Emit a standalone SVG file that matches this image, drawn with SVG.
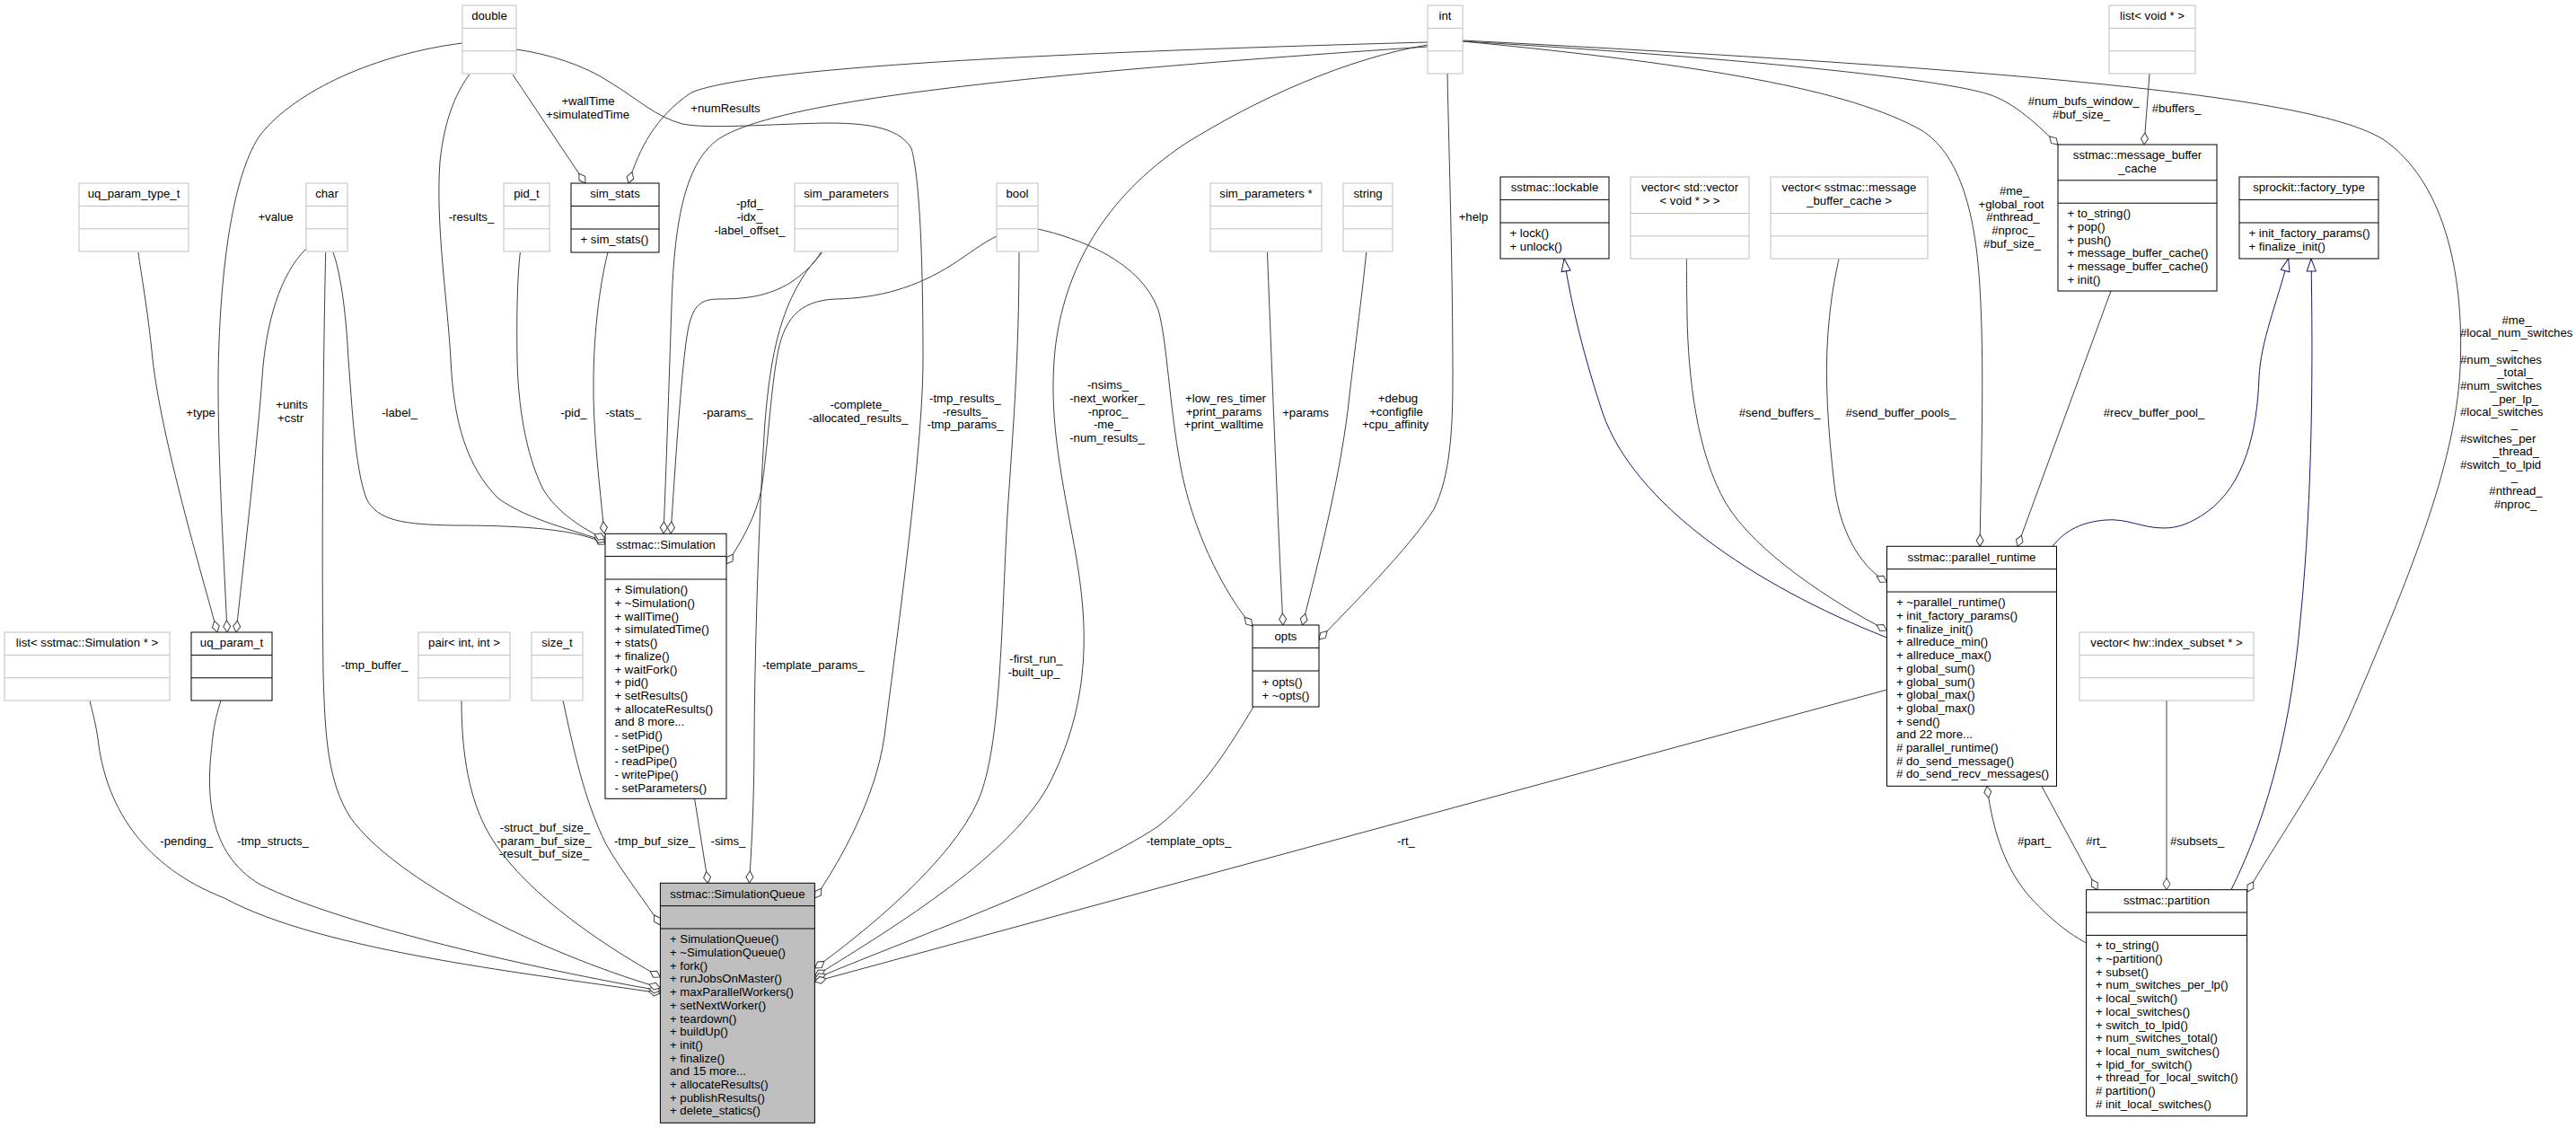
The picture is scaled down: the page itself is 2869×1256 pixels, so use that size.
<svg xmlns="http://www.w3.org/2000/svg" width="2869" height="1256" viewBox="0 0 2869 1256">
<style>
text{font-family:"Liberation Sans",Arial,Helvetica,sans-serif;font-size:13.2px;fill:#000}
.m{text-anchor:middle}
.g rect{fill:#fff;stroke:#bfbfbf;stroke-width:1}
.g line{stroke:#bfbfbf;stroke-width:1}
.k rect{fill:#fff;stroke:#000;stroke-width:1}
.k line{stroke:#000;stroke-width:1}
.k rect.q{fill:#bfbfbf}
#edges path{fill:none;stroke:#404040;stroke-width:1;marker-start:url(#dia)}
#edges path.i{stroke:#191970;marker-start:url(#tri)}
</style>
<defs>
<marker id="dia" viewBox="-1 -6 16 12" refX="0" refY="0" markerWidth="16" markerHeight="12" markerUnits="userSpaceOnUse" orient="auto" overflow="visible"><path d="M0,0 L6.5,-4 L13,0 L6.5,4 Z" fill="#fff" stroke="#404040" stroke-width="1"/></marker>
<marker id="tri" viewBox="-1 -7 17 14" refX="0" refY="0" markerWidth="17" markerHeight="14" markerUnits="userSpaceOnUse" orient="auto" overflow="visible"><path d="M0,0 L14,-5 L14,5 Z" fill="#fff" stroke="#191970" stroke-width="1"/></marker>
</defs>
<rect x="0" y="0" width="2869" height="1256" fill="#fff"/>

<g id="edges">
<path d="M253,704 C249,610 240,470 244,380 C248,280 262,190 290,150 C330,100 420,60 515,48"/>
<path d="M242,704 C225,640 180,490 170,400 C164,340 157,305 154,281"/>
<path d="M263,704 C272,620 288,480 292,420 C296,360 312,305 341,277"/>
<path d="M652,204 L571,83"/>
<path d="M700,204 C712,165 730,130 770,103 C850,70 1300,55 1590,47"/>
<path d="M739,594 C742,520 745,430 748,340 C751,240 765,180 800,155 C860,115 1100,85 1590,52"/>
<path d="M747,594 C752,520 757,440 763,390 C768,345 775,333 800,333 C830,333 855,330 880,315 C898,303 910,290 914,281"/>
<path d="M834.5,983 C838,930 840,880 840,820 C841,700 846,560 852,470 C858,400 868,330 916,281"/>
<path d="M907.5,1078 C960,1040 1060,960 1090,890 C1115,830 1115,700 1122,573 C1128,480 1135,400 1135,281"/>
<path d="M1395,697 C1370,670 1330,600 1315,520 C1302,450 1300,380 1290,345 C1270,290 1200,265 1156,255"/>
<path d="M907.5,1087 C1000,1030 1130,950 1170,870 C1220,770 1210,680 1195,600 C1180,520 1168,460 1175,390 C1185,300 1230,220 1320,160 C1400,110 1500,65 1590,50"/>
<path d="M1469,712 C1500,680 1570,610 1597,567 C1615,530 1618,480 1618,420 C1618,300 1614,180 1612,82"/>
<path d="M1429,696 C1424,600 1418,450 1411.5,281"/>
<path d="M1450.5,696 C1470,620 1495,520 1503,440 C1510,380 1518,320 1521.7,281"/>
<path d="M907.5,1090 C1000,1050 1200,980 1290,920 C1340,880 1370,830 1396,787"/>
<path d="M907.5,1093 L2101.5,768"/>
<path class="i" d="M1742,288 C1750,340 1765,400 1785,460 C1820,560 1950,650 2101.5,710"/>
<path d="M2101.5,702 C2040,670 1955,615 1922,560 C1890,505 1880,420 1879,350 C1878.5,320 1878.4,300 1878.4,288"/>
<path d="M2101.5,648 C2078,635 2050,600 2043,540 C2036,480 2032,420 2036,370 C2040,320 2046,300 2048,288"/>
<path d="M2247,608.3 L2351,324"/>
<path d="M2205,608.3 C2207,500 2210,400 2205,320 C2200,230 2180,170 2140,145 C2060,100 1900,72 1629,46"/>
<path d="M2292,161 C2270,140 2245,115 2215,105 C2150,85 1900,62 1629,46"/>
<path d="M2388,161 L2394,82"/>
<path d="M2503,993 C2540,930 2590,860 2620,790 C2680,650 2735,520 2740,410 C2745,300 2720,200 2654,155 C2580,110 2300,80 1629,45"/>
<path class="i" d="M2548.7,288 C2535,340 2518,380 2516,420 C2514,480 2500,540 2458,570 C2440,583 2425,588 2410,588 C2385,588 2370,577 2345,579 C2320,581 2300,590 2286,608.3"/>
<path class="i" d="M2574,288 C2576,400 2576,550 2562,690 C2552,800 2530,900 2485,990.7"/>
<path d="M2336,990.7 L2274,875.5"/>
<path d="M2213,875.5 C2220,930 2235,970 2262,1000 C2285,1025 2305,1040 2323.6,1050"/>
<path d="M2413,990.7 L2413,780"/>
<path d="M735.4,1106 C600,1085 360,1060 250,1000 C160,965 120,900 110,830 C107,805 102,790 100,780"/>
<path d="M735.4,1103 C600,1080 380,1030 290,985 C230,950 230,880 236,830 C238,805 243,790 246,780"/>
<path d="M735.4,1100 C600,1060 440,980 390,910 C365,870 362,820 360,750 C358,600 360,400 362.7,281"/>
<path d="M735.4,1088 C650,1040 570,980 540,920 C520,880 514,830 514,780"/>
<path d="M735.4,1030 C720,1005 695,975 675,940 C650,890 638,830 627,780"/>
<path d="M788.6,983.3 L773.5,889"/>
<path d="M907.5,1000 C935,960 975,890 985,820 C1000,700 1028,500 1028,400 C1028,300 1025,200 1015,165 C1000,140 960,137 920,137 C860,138 790,144 760,138 C730,130 710,110 680,92 C650,72 610,60 575,55"/>
<path d="M809,628 C825,605 842,575 848,545 C855,500 858,440 865,400 C872,355 890,335 930,333 C980,332 1020,320 1060,295 C1080,282 1095,270 1110,263"/>
<path d="M674,606 C650,592 600,585 505,585 C450,584 420,580 408,555 C395,520 392,450 388,400 C385,340 378,300 371,281"/>
<path d="M674,603 C640,590 590,580 555,555 C520,520 505,470 502,400 C498,330 485,250 490,180 C495,130 510,100 523,82.7"/>
<path d="M674,600 C650,590 620,570 605,545 C585,505 577,450 576,400 C575,340 577,300 579.4,281"/>
<path d="M673,594 C668,540 660,480 661,420 C662,350 672,300 677,281"/>
</g>

<g id="edge-labels" class="m">
<text x="655" y="117.3">+wallTime</text>
<text x="654.5" y="132.3">+simulatedTime</text>
<text x="808" y="125.3">+numResults</text>
<text x="307" y="246.3">+value</text>
<text x="525" y="246.3">-results_</text>
<text x="835" y="231.3">-pfd_</text>
<text x="835" y="246.3">-idx_</text>
<text x="835" y="261.3">-label_offset_</text>
<text x="1641" y="246.3">+help</text>
<text x="2320.7" y="117.3">#num_bufs_window_</text>
<text x="2318" y="132.3">#buf_size_</text>
<text x="2424" y="125.3">#buffers_</text>
<text x="2243.5" y="216.9">#me_</text>
<text x="2240" y="231.6">+global_root</text>
<text x="2242" y="246.3">#nthread_</text>
<text x="2242" y="261">#nproc_</text>
<text x="2241" y="275.7">#buf_size_</text>
<text x="223.6" y="463.6">+type</text>
<text x="325" y="455.3">+units</text>
<text x="323.6" y="470.3">+cstr</text>
<text x="445" y="463.6">-label_</text>
<text x="639" y="463.6">-pid_</text>
<text x="694" y="463.6">-stats_</text>
<text x="810.6" y="463.6">-params_</text>
<text x="957" y="455.3">-complete_</text>
<text x="956" y="470.3">-allocated_results_</text>
<text x="1075" y="447.9">-tmp_results_</text>
<text x="1075" y="462.6">-results_</text>
<text x="1075" y="477.3">-tmp_params_</text>
<text x="1234" y="433.3">-nsims_</text>
<text x="1233" y="448">-next_worker_</text>
<text x="1234" y="462.7">-nproc_</text>
<text x="1233" y="477.4">-me_</text>
<text x="1233" y="492.1">-num_results_</text>
<text x="1365" y="447.9">+low_res_timer</text>
<text x="1363" y="462.6">+print_params</text>
<text x="1363" y="477.3">+print_walltime</text>
<text x="1454" y="463.6">+params</text>
<text x="1557" y="447.9">+debug</text>
<text x="1555" y="462.6">+configfile</text>
<text x="1554" y="477.3">+cpu_affinity</text>
<text x="1982" y="463.6">#send_buffers_</text>
<text x="2117" y="463.6">#send_buffer_pools_</text>
<text x="2399" y="463.6">#recv_buffer_pool_</text>
<text x="2803" y="360.6">#me_</text>
<text x="2740" y="375.3" text-anchor="start">#local_num_switches</text>
<text x="2800.5" y="388">_</text>
<text x="2740" y="404.6" text-anchor="start">#num_switches</text>
<text x="2801" y="419.3">_total_</text>
<text x="2740" y="433.9" text-anchor="start">#num_switches</text>
<text x="2801.5" y="448.6">_per_lp_</text>
<text x="2740" y="463.3" text-anchor="start">#local_switches</text>
<text x="2800.5" y="476">_</text>
<text x="2740" y="492.6" text-anchor="start">#switches_per</text>
<text x="2802" y="507.3">_thread_</text>
<text x="2740" y="521.9" text-anchor="start">#switch_to_lpid</text>
<text x="2800.5" y="534.6">_</text>
<text x="2802" y="551.3">#nthread_</text>
<text x="2801.5" y="565.9">#nproc_</text>
<text x="417" y="745.3">-tmp_buffer_</text>
<text x="905.7" y="745.3">-template_params_</text>
<text x="1154" y="737.9">-first_run_</text>
<text x="1151.5" y="752.6">-built_up_</text>
<text x="207.7" y="940.6">-pending_</text>
<text x="304" y="940.6">-tmp_structs_</text>
<text x="607" y="925.9">-struct_buf_size_</text>
<text x="606" y="940.6">-param_buf_size_</text>
<text x="606" y="955.3">-result_buf_size_</text>
<text x="729" y="940.6">-tmp_buf_size_</text>
<text x="811" y="940.6">-sims_</text>
<text x="1324" y="940.6">-template_opts_</text>
<text x="1566" y="940.6">-rt_</text>
<text x="2265.6" y="940.6">#part_</text>
<text x="2334.6" y="940.6">#rt_</text>
<text x="2447" y="940.6">#subsets_</text>
</g>

<g id="n-double" class="g"><rect x="515" y="6" width="60" height="76"/><line x1="515" y1="31.4" x2="575" y2="31.4"/><line x1="515" y1="56.8" x2="575" y2="56.8"/><text class="m" x="545" y="22.3">double</text></g>
<g id="n-int" class="g"><rect x="1590" y="6" width="39" height="76"/><line x1="1590" y1="31.4" x2="1629" y2="31.4"/><line x1="1590" y1="56.8" x2="1629" y2="56.8"/><text class="m" x="1609.5" y="22.3">int</text></g>
<g id="n-list-void" class="g"><rect x="2349" y="6" width="96" height="76"/><line x1="2349" y1="31.4" x2="2445" y2="31.4"/><line x1="2349" y1="56.8" x2="2445" y2="56.8"/><text class="m" x="2397" y="22.3">list&lt; void * &gt;</text></g>
<g id="n-uq_param_type_t" class="g"><rect x="88" y="204" width="122" height="76"/><line x1="88" y1="229.4" x2="210" y2="229.4"/><line x1="88" y1="254.8" x2="210" y2="254.8"/><text class="m" x="149" y="220.3">uq_param_type_t</text></g>
<g id="n-char" class="g"><rect x="341" y="204" width="46" height="76"/><line x1="341" y1="229.4" x2="387" y2="229.4"/><line x1="341" y1="254.8" x2="387" y2="254.8"/><text class="m" x="364" y="220.3">char</text></g>
<g id="n-pid_t" class="g"><rect x="561" y="204" width="51" height="76"/><line x1="561" y1="229.4" x2="612" y2="229.4"/><line x1="561" y1="254.8" x2="612" y2="254.8"/><text class="m" x="586.5" y="220.3">pid_t</text></g>
<g id="n-sim_parameters" class="g"><rect x="885" y="204" width="115" height="76"/><line x1="885" y1="229.4" x2="1000" y2="229.4"/><line x1="885" y1="254.8" x2="1000" y2="254.8"/><text class="m" x="942.5" y="220.3">sim_parameters</text></g>
<g id="n-bool" class="g"><rect x="1110" y="204" width="46" height="76"/><line x1="1110" y1="229.4" x2="1156" y2="229.4"/><line x1="1110" y1="254.8" x2="1156" y2="254.8"/><text class="m" x="1133" y="220.3">bool</text></g>
<g id="n-sim_parameters_ptr" class="g"><rect x="1348" y="204" width="124" height="76"/><line x1="1348" y1="229.4" x2="1472" y2="229.4"/><line x1="1348" y1="254.8" x2="1472" y2="254.8"/><text class="m" x="1410" y="220.3">sim_parameters *</text></g>
<g id="n-string" class="g"><rect x="1496" y="204" width="55" height="76"/><line x1="1496" y1="229.4" x2="1551" y2="229.4"/><line x1="1496" y1="254.8" x2="1551" y2="254.8"/><text class="m" x="1523.5" y="220.3">string</text></g>
<g id="n-vector-vector" class="g"><rect x="1816" y="197" width="132" height="91"/><line x1="1816" y1="237.5" x2="1948" y2="237.5"/><line x1="1816" y1="262.8" x2="1948" y2="262.8"/><text class="m" x="1882" y="213.3">vector&lt; std::vector</text><text class="m" x="1882" y="228">&lt; void * &gt; &gt;</text></g>
<g id="n-vector-mbc" class="g"><rect x="1972" y="197" width="175" height="91"/><line x1="1972" y1="237.5" x2="2147" y2="237.5"/><line x1="1972" y1="262.8" x2="2147" y2="262.8"/><text class="m" x="2059.5" y="213.3">vector&lt; sstmac::message</text><text class="m" x="2059.5" y="228">_buffer_cache &gt;</text></g>
<g id="n-list-sim" class="g"><rect x="5" y="704" width="184" height="76"/><line x1="5" y1="729.4" x2="189" y2="729.4"/><line x1="5" y1="754.8" x2="189" y2="754.8"/><text class="m" x="97" y="720.3">list&lt; sstmac::Simulation * &gt;</text></g>
<g id="n-pair" class="g"><rect x="466" y="704" width="102" height="76"/><line x1="466" y1="729.4" x2="568" y2="729.4"/><line x1="466" y1="754.8" x2="568" y2="754.8"/><text class="m" x="517" y="720.3">pair&lt; int, int &gt;</text></g>
<g id="n-size_t" class="g"><rect x="592" y="704" width="57" height="76"/><line x1="592" y1="729.4" x2="649" y2="729.4"/><line x1="592" y1="754.8" x2="649" y2="754.8"/><text class="m" x="620.5" y="720.3">size_t</text></g>
<g id="n-vector-subset" class="g"><rect x="2316" y="704" width="194" height="76"/><line x1="2316" y1="729.4" x2="2510" y2="729.4"/><line x1="2316" y1="754.8" x2="2510" y2="754.8"/><text class="m" x="2413" y="720.3">vector&lt; hw::index_subset * &gt;</text></g>

<g id="n-sim_stats" class="k"><rect x="636" y="204" width="98" height="77"/><line x1="636" y1="229.4" x2="734" y2="229.4"/><line x1="636" y1="255" x2="734" y2="255"/><text class="m" x="685" y="220.3">sim_stats</text><text x="646.5" y="271.3">+ sim_stats()</text></g>
<g id="n-lockable" class="k"><rect x="1671" y="197" width="121" height="91"/><line x1="1671" y1="222.4" x2="1792" y2="222.4"/><line x1="1671" y1="248" x2="1792" y2="248"/><text class="m" x="1731.5" y="213.3">sstmac::lockable</text><text x="1681.5" y="264">+ lock()</text><text x="1681.5" y="278.7">+ unlock()</text></g>
<g id="n-message_buffer_cache" class="k"><rect x="2292" y="161" width="177" height="163"/><line x1="2292" y1="200.8" x2="2469" y2="200.8"/><line x1="2292" y1="226.2" x2="2469" y2="226.2"/><text class="m" x="2380.5" y="177.3">sstmac::message_buffer</text><text class="m" x="2380.5" y="192">_cache</text><text x="2302.5" y="242.3">+ to_string()<tspan x="2302.5" dy="14.7">+ pop()</tspan><tspan x="2302.5" dy="14.7">+ push()</tspan><tspan x="2302.5" dy="14.7">+ message_buffer_cache()</tspan><tspan x="2302.5" dy="14.7">+ message_buffer_cache()</tspan><tspan x="2302.5" dy="14.7">+ init()</tspan></text></g>
<g id="n-factory_type" class="k"><rect x="2494" y="197" width="155" height="91"/><line x1="2494" y1="222.4" x2="2649" y2="222.4"/><line x1="2494" y1="248" x2="2649" y2="248"/><text class="m" x="2571.5" y="213.3">sprockit::factory_type</text><text x="2504.5" y="264">+ init_factory_params()</text><text x="2504.5" y="278.7">+ finalize_init()</text></g>
<g id="n-uq_param_t" class="k"><rect x="213" y="704" width="90" height="76"/><line x1="213" y1="729.4" x2="303" y2="729.4"/><line x1="213" y1="754.8" x2="303" y2="754.8"/><text class="m" x="258" y="720.3">uq_param_t</text></g>
<g id="n-Simulation" class="k"><rect x="674" y="594.3" width="135" height="295"/><line x1="674" y1="619.4" x2="809" y2="619.4"/><line x1="674" y1="645" x2="809" y2="645"/><text class="m" x="741.5" y="610.6">sstmac::Simulation</text><text x="684.5" y="661.3">+ Simulation()<tspan x="684.5" dy="14.7">+ ~Simulation()</tspan><tspan x="684.5" dy="14.7">+ wallTime()</tspan><tspan x="684.5" dy="14.7">+ simulatedTime()</tspan><tspan x="684.5" dy="14.7">+ stats()</tspan><tspan x="684.5" dy="14.7">+ finalize()</tspan><tspan x="684.5" dy="14.7">+ waitFork()</tspan><tspan x="684.5" dy="14.7">+ pid()</tspan><tspan x="684.5" dy="14.7">+ setResults()</tspan><tspan x="684.5" dy="14.7">+ allocateResults()</tspan><tspan x="684.5" dy="14.7">and 8 more...</tspan><tspan x="684.5" dy="14.7">- setPid()</tspan><tspan x="684.5" dy="14.7">- setPipe()</tspan><tspan x="684.5" dy="14.7">- readPipe()</tspan><tspan x="684.5" dy="14.7">- writePipe()</tspan><tspan x="684.5" dy="14.7">- setParameters()</tspan></text></g>
<g id="n-opts" class="k"><rect x="1395" y="696" width="74" height="91"/><line x1="1395" y1="721.4" x2="1469" y2="721.4"/><line x1="1395" y1="747" x2="1469" y2="747"/><text class="m" x="1432" y="712.6">opts</text><text x="1405.5" y="763.9">+ opts()</text><text x="1405.5" y="778.6">+ ~opts()</text></g>
<g id="n-parallel_runtime" class="k"><rect x="2101.5" y="608.3" width="189" height="267"/><line x1="2101.5" y1="633.7" x2="2290.5" y2="633.7"/><line x1="2101.5" y1="659" x2="2290.5" y2="659"/><text class="m" x="2196" y="624.9">sstmac::parallel_runtime</text><text x="2112" y="675.3">+ ~parallel_runtime()<tspan x="2112" dy="14.7">+ init_factory_params()</tspan><tspan x="2112" dy="14.7">+ finalize_init()</tspan><tspan x="2112" dy="14.7">+ allreduce_min()</tspan><tspan x="2112" dy="14.7">+ allreduce_max()</tspan><tspan x="2112" dy="14.7">+ global_sum()</tspan><tspan x="2112" dy="14.7">+ global_sum()</tspan><tspan x="2112" dy="14.7">+ global_max()</tspan><tspan x="2112" dy="14.7">+ global_max()</tspan><tspan x="2112" dy="14.7">+ send()</tspan><tspan x="2112" dy="14.7">and 22 more...</tspan><tspan x="2112" dy="14.7"># parallel_runtime()</tspan><tspan x="2112" dy="14.7"># do_send_message()</tspan><tspan x="2112" dy="14.7"># do_send_recv_messages()</tspan></text></g>
<g id="n-partition" class="k"><rect x="2323.6" y="990.7" width="179" height="252"/><line x1="2323.6" y1="1016" x2="2502.6" y2="1016"/><line x1="2323.6" y1="1041.4" x2="2502.6" y2="1041.4"/><text class="m" x="2413" y="1007.3">sstmac::partition</text><text x="2334" y="1057.3">+ to_string()<tspan x="2334" dy="14.7">+ ~partition()</tspan><tspan x="2334" dy="14.7">+ subset()</tspan><tspan x="2334" dy="14.7">+ num_switches_per_lp()</tspan><tspan x="2334" dy="14.7">+ local_switch()</tspan><tspan x="2334" dy="14.7">+ local_switches()</tspan><tspan x="2334" dy="14.7">+ switch_to_lpid()</tspan><tspan x="2334" dy="14.7">+ num_switches_total()</tspan><tspan x="2334" dy="14.7">+ local_num_switches()</tspan><tspan x="2334" dy="14.7">+ lpid_for_switch()</tspan><tspan x="2334" dy="14.7">+ thread_for_local_switch()</tspan><tspan x="2334" dy="14.7"># partition()</tspan><tspan x="2334" dy="14.7"># init_local_switches()</tspan></text></g>
<g id="n-SimulationQueue" class="k"><rect class="q" x="735.4" y="983.3" width="172" height="267"/><line x1="735.4" y1="1008.7" x2="907.4" y2="1008.7"/><line x1="735.4" y1="1034" x2="907.4" y2="1034"/><text class="m" x="821.4" y="999.6">sstmac::SimulationQueue</text><text x="746" y="1050.3">+ SimulationQueue()<tspan x="746" dy="14.7">+ ~SimulationQueue()</tspan><tspan x="746" dy="14.7">+ fork()</tspan><tspan x="746" dy="14.7">+ runJobsOnMaster()</tspan><tspan x="746" dy="14.7">+ maxParallelWorkers()</tspan><tspan x="746" dy="14.7">+ setNextWorker()</tspan><tspan x="746" dy="14.7">+ teardown()</tspan><tspan x="746" dy="14.7">+ buildUp()</tspan><tspan x="746" dy="14.7">+ init()</tspan><tspan x="746" dy="14.7">+ finalize()</tspan><tspan x="746" dy="14.7">and 15 more...</tspan><tspan x="746" dy="14.7">+ allocateResults()</tspan><tspan x="746" dy="14.7">+ publishResults()</tspan><tspan x="746" dy="14.7">+ delete_statics()</tspan></text></g>
</svg>
